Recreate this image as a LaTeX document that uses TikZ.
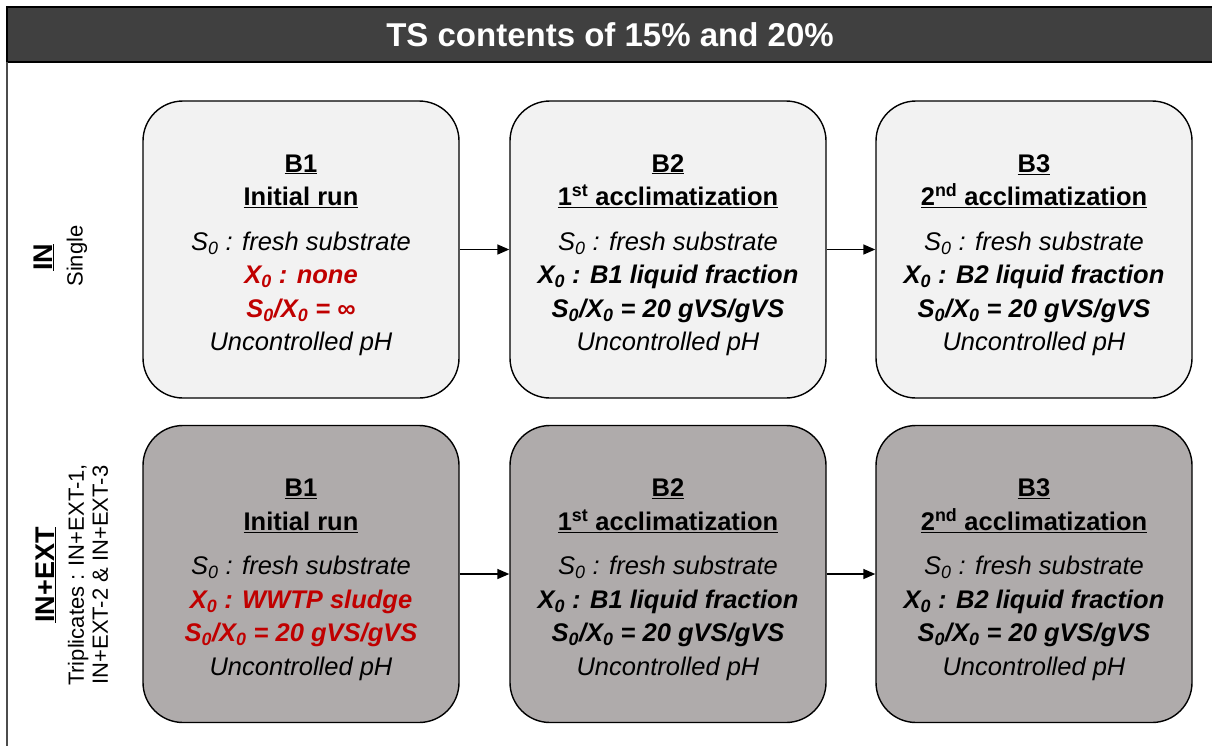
\documentclass[tikz,border=0pt]{standalone}
\usepackage{fontspec}
\setmainfont{Liberation Sans}
\usetikzlibrary{arrows.meta}

\definecolor{titlegray}{HTML}{404040}
\definecolor{lightbox}{HTML}{F2F2F2}
\definecolor{darkbox}{HTML}{AFABAB}
\definecolor{accred}{HTML}{C00000}
\newcommand{\zsub}{\textsubscript{0}}
\newcommand{\topstrut}{\rule{0pt}{29pt}}

\begin{document}
\begin{tikzpicture}[x=1pt, y=-1pt,
		runbox/.style={draw, line width=1.4pt, rounded corners=40pt, minimum width=316pt, minimum height=297pt,
			inner sep=0pt, align=center, font=\fontsize{25.5}{33.5}\selectfont},
		runarrow/.style={-{Triangle[length=12pt, width=10pt]}, line width=1.5pt},
		rowlabel/.style={rotate=90, font=\fontsize{27}{29}\selectfont\bfseries},
		rowsub/.style={rotate=90, align=center, font=\fontsize{22}{24}\selectfont}]
		\useasboundingbox (0,0) rectangle (1212,745);
		\fill [white] (0,0) rectangle (1212,745);

		% title bar and frame
		\draw [fill=titlegray, line width=1.2pt] (7,7) rectangle (1220,62);
		\node [text=white, font=\fontsize{33}{36}\selectfont\bfseries] (title) at (610,35) {TS contents of 15\% and 20\%};
		\draw [line width=1.2pt, black!70] (7,62) -- (7,750);

		% row labels
		\node [rowlabel] (inlab) at (44,257) {\underline{IN}};
		\node [rowsub] (insub) at (77,256) {Single};
		\node [rowlabel] (extlab) at (46,575) {\underline{IN+EXT}};
		\node [rowsub] (extsub) at (88,575) {Triplicates : IN+EXT-1,\\IN+EXT-2 \& IN+EXT-3};

		% row IN
		\node [runbox, fill=lightbox] (inb1) at (301,249.5) {\topstrut\underline{\textbf{B1}}\\ \underline{\textbf{Initial run}}\\[11pt]
			\textit{S\zsub{} : fresh substrate}\\
			\textcolor{accred}{\textbf{\textit{X\zsub{} : none}}}\\
			\textcolor{accred}{\textbf{\textit{S\zsub/X\zsub{} = ∞}}}\\
			\textit{Uncontrolled pH}};
		\node [runbox, fill=lightbox] (inb2) at (668,249.5) {\topstrut\underline{\textbf{B2}}\\ \underline{\textbf{1\textsuperscript{st} acclimatization}}\\[11pt]
			\textit{S\zsub{} : fresh substrate}\\
			\textbf{\textit{X\zsub{} : B1 liquid fraction}}\\
			\textbf{\textit{S\zsub/X\zsub{} = 20 gVS/gVS}}\\
			\textit{Uncontrolled pH}};
		\node [runbox, fill=lightbox] (inb3) at (1034,249.5) {\topstrut\underline{\textbf{B3}}\\ \underline{\textbf{2\textsuperscript{nd} acclimatization}}\\[11pt]
			\textit{S\zsub{} : fresh substrate}\\
			\textbf{\textit{X\zsub{} : B2 liquid fraction}}\\
			\textbf{\textit{S\zsub/X\zsub{} = 20 gVS/gVS}}\\
			\textit{Uncontrolled pH}};

		% row IN+EXT
		\node [runbox, fill=darkbox] (extb1) at (301,574) {\topstrut\underline{\textbf{B1}}\\ \underline{\textbf{Initial run}}\\[11pt]
			\textit{S\zsub{} : fresh substrate}\\
			\textcolor{accred}{\textbf{\textit{X\zsub{} : WWTP sludge}}}\\
			\textcolor{accred}{\textbf{\textit{S\zsub/X\zsub{} = 20 gVS/gVS}}}\\
			\textit{Uncontrolled pH}};
		\node [runbox, fill=darkbox] (extb2) at (668,574) {\topstrut\underline{\textbf{B2}}\\ \underline{\textbf{1\textsuperscript{st} acclimatization}}\\[11pt]
			\textit{S\zsub{} : fresh substrate}\\
			\textbf{\textit{X\zsub{} : B1 liquid fraction}}\\
			\textbf{\textit{S\zsub/X\zsub{} = 20 gVS/gVS}}\\
			\textit{Uncontrolled pH}};
		\node [runbox, fill=darkbox] (extb3) at (1034,574) {\topstrut\underline{\textbf{B3}}\\ \underline{\textbf{2\textsuperscript{nd} acclimatization}}\\[11pt]
			\textit{S\zsub{} : fresh substrate}\\
			\textbf{\textit{X\zsub{} : B2 liquid fraction}}\\
			\textbf{\textit{S\zsub/X\zsub{} = 20 gVS/gVS}}\\
			\textit{Uncontrolled pH}};

		% arrows
		\draw [runarrow] (inb1) -- (inb2);
		\draw [runarrow] (inb2) -- (inb3);
		\draw [runarrow] (extb1) -- (extb2);
		\draw [runarrow] (extb2) -- (extb3);
	\end{tikzpicture}
\end{document}
